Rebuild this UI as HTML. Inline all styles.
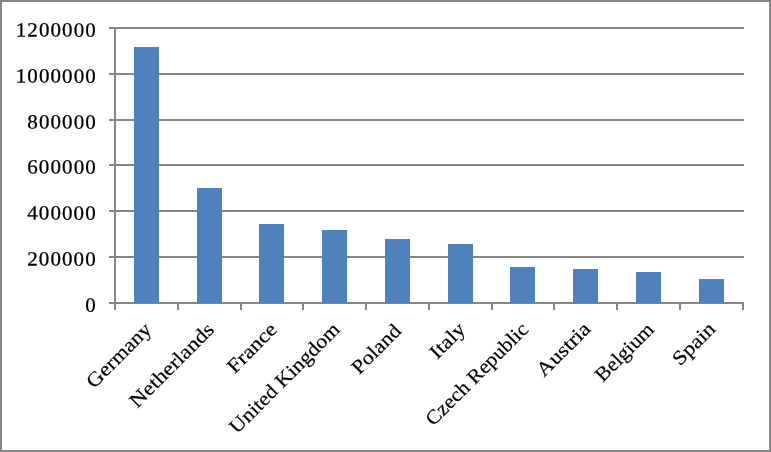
<!DOCTYPE html>
<html lang="en"><head><meta charset="utf-8"><title>Chart</title>
<style>html,body{margin:0;padding:0;background:#fff}svg{display:block}text{font-family:"Liberation Serif","DejaVu Serif",serif;font-size:20px;fill:#000;stroke:#000;stroke-width:0.2px}.yl text{font-size:20.2px;stroke-width:0.28px}</style>
</head><body>
<svg width="771" height="452" viewBox="0 0 771 452">
<rect x="0" y="0" width="771" height="452" fill="#fff"/>
<rect x="1" y="1" width="769" height="450" fill="none" stroke="#858585" stroke-width="2"/>
<g fill="#858585">
<rect x="109" y="27" width="635" height="2"/>
<rect x="109" y="73" width="635" height="2"/>
<rect x="109" y="119" width="635" height="2"/>
<rect x="109" y="164" width="635" height="2"/>
<rect x="109" y="210" width="635" height="2"/>
<rect x="109" y="256" width="635" height="2"/>
<rect x="109" y="302" width="635" height="2"/>
<rect x="114" y="27" width="2" height="283"/>
<rect x="177" y="303" width="2" height="7"/>
<rect x="240" y="303" width="2" height="7"/>
<rect x="302" y="303" width="2" height="7"/>
<rect x="365" y="303" width="2" height="7"/>
<rect x="428" y="303" width="2" height="7"/>
<rect x="491" y="303" width="2" height="7"/>
<rect x="553" y="303" width="2" height="7"/>
<rect x="616" y="303" width="2" height="7"/>
<rect x="679" y="303" width="2" height="7"/>
<rect x="742" y="303" width="2" height="7"/>
</g>
<g fill="#4f81bd">
<rect x="134" y="47" width="25" height="256"/>
<rect x="197" y="188" width="25" height="115"/>
<rect x="259" y="224" width="25" height="79"/>
<rect x="322" y="230" width="25" height="73"/>
<rect x="385" y="239" width="25" height="64"/>
<rect x="448" y="244" width="25" height="59"/>
<rect x="510" y="267" width="25" height="36"/>
<rect x="573" y="269" width="25" height="34"/>
<rect x="636" y="272" width="25" height="31"/>
<rect x="699" y="279" width="25" height="24"/>
</g>
<g class="yl" transform="rotate(0.03) scale(1.04 1)">
<text x="15.14 26.29 37.45 48.60 59.75 70.91 82.06" y="36.60">1200000</text>
<text x="15.14 26.29 37.45 48.60 59.75 70.91 82.06" y="82.60">1000000</text>
<text x="26.29 37.45 48.60 59.75 70.91 82.06" y="128.60">800000</text>
<text x="26.29 37.45 48.60 59.75 70.91 82.06" y="173.60">600000</text>
<text x="26.29 37.45 48.60 59.75 70.91 82.06" y="219.60">400000</text>
<text x="26.29 37.45 48.60 59.75 70.91 82.06" y="265.60">200000</text>
<text x="82.06" y="311.60">0</text>
</g>
<g text-anchor="end">
<text transform="translate(152.60 330.60) rotate(-45)" textLength="82.80" lengthAdjust="spacingAndGlyphs">Germany</text>
<text transform="translate(215.40 330.60) rotate(-45)" textLength="110.40" lengthAdjust="spacingAndGlyphs">Netherlands</text>
<text transform="translate(278.20 330.60) rotate(-45)" textLength="61.60" lengthAdjust="spacingAndGlyphs">France</text>
<text transform="translate(341.00 330.60) rotate(-45)" textLength="147.00" lengthAdjust="spacingAndGlyphs">United Kingdom</text>
<text transform="translate(402.30 332.10) rotate(-45)" textLength="60.90" lengthAdjust="spacingAndGlyphs">Poland</text>
<text transform="translate(466.60 330.60) rotate(-45)" textLength="41.50" lengthAdjust="spacingAndGlyphs">Italy</text>
<text transform="translate(529.40 330.60) rotate(-45)" textLength="136.00" lengthAdjust="spacingAndGlyphs">Czech Republic</text>
<text transform="translate(591.70 330.10) rotate(-45)" textLength="67.30" lengthAdjust="spacingAndGlyphs">Austria</text>
<text transform="translate(655.00 330.60) rotate(-45)" textLength="73.80" lengthAdjust="spacingAndGlyphs">Belgium</text>
<text transform="translate(716.60 330.10) rotate(-45)" textLength="51.60" lengthAdjust="spacingAndGlyphs">Spain</text>
</g>
</svg>
</body></html>
